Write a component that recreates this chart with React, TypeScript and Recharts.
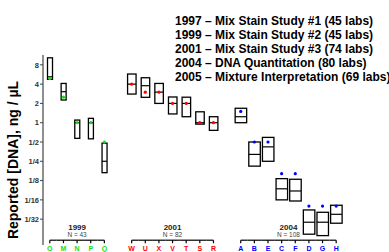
import { Bar, ComposedChart, Line, XAxis, YAxis } from "recharts";

// lab letters per study, in plotted order
const labs1999 = ["O", "M", "N", "P", "Q"];
const labs2001 = ["W", "U", "X", "V", "T", "S", "R"];
const labs2004 = ["A", "B", "E", "C", "F", "D", "G", "H"];

// reported [DNA] in ng/uL: box bottom, median, box top, and the true value
const low1999 = [4.75, 2.26, 0.57, 0.56, 0.166];
const med1999 = [5.2, 3.05, 1.0, 1.0, 0.25];
const high1999 = [10.3, 4.1, 1.1, 1.17, 0.48];
const true1999 = [4.9, 2.5, 1.0, 1.0, 0.5];

const low2001 = [2.8, 2.49, 2.0, 1.37, 1.24, 0.95, 0.76];
const med2001 = [4.0, 3.78, 3.0, 2.0, 2.0, 1.0, 1.0];
const high2001 = [5.75, 5.03, 4.1, 2.52, 2.5, 1.48, 1.24];
const true2001 = [4.0, 3.0, 3.0, 2.0, 2.0, 1.0, 1.0];

const low2004 = [1.0, 0.21, 0.25, 0.0625, 0.06, 0.0182, 0.0173, 0.027];
const med2004 = [1.24, 0.32, 0.42, 0.093, 0.086, 0.028, 0.028, 0.0372];
const high2004 = [1.68, 0.5, 0.59, 0.134, 0.131, 0.0435, 0.04, 0.0515];
const true2004 = [1.5, 0.5, 0.5, 0.16, 0.16, 0.05, 0.05, 0.05];

const studyYears = ["1999", "2001", "2004"];
const studyN = [43, 82, 108];

const yTicks = [3, 2, 1, 0, -1, -2, -3, -4, -5];

const legendLines = [
  "1997 \u2013 Mix Stain Study #1 (45 labs)",
  "1999 \u2013 Mix Stain Study #2 (45 labs)",
  "2001 \u2013 Mix Stain Study #3 (74 labs)",
  "2004 \u2013 DNA Quantitation (80 labs)",
  "2005 \u2013 Mixture Interpretation (69 labs)",
];

const FONT = "'Liberation Sans', Arial, sans-serif";
const W = 389;
const H = 252;
const MARGIN = { top: 55, right: 46, bottom: 0, left: 0 };
const Y_AXIS_W = 43;

const groups = [
  { labs: labs1999, low: low1999, med: med1999, high: high1999, truth: true1999, color: "#11dd11", boxW: 5 },
  { labs: labs2001, low: low2001, med: med2001, high: high2001, truth: true2001, color: "#ff0000", boxW: 8.5 },
  { labs: labs2004, low: low2004, med: med2004, high: high2004, truth: true2004, color: "#0000ff", boxW: 11.5 },
];

type Row = {
  slot: string;
  group?: number;
  pos?: number;
  range?: [number, number] | null;
  med?: number | null;
  truth?: number | null;
};

const rows: Row[] = [];
groups.forEach((g, gi) => {
  if (gi > 0) rows.push({ slot: `gap${gi}`, range: null, med: null, truth: null });
  g.labs.forEach((lab, i) => {
    rows.push({
      slot: lab,
      group: gi,
      pos: i,
      range: [Math.log2(g.low[i]), Math.log2(g.high[i])],
      med: Math.log2(g.med[i]),
      truth: Math.log2(g.truth[i]),
    });
  });
});

const STEP = (W - MARGIN.left - MARGIN.right - Y_AXIS_W) / rows.length;

const fmtPow2 = (e: number) => (e >= 0 ? String(2 ** e) : `1/${2 ** -e}`);

function BoxShape(props: any) {
  const { x, y, width, height, payload } = props;
  if (payload.group === undefined || height == null) return <g />;
  const w = groups[payload.group].boxW;
  const cx = x + width / 2;
  const top = Math.min(y, y + height);
  return (
    <rect
      x={cx - w / 2}
      y={top}
      width={w}
      height={Math.abs(height)}
      fill="#fff"
      stroke="#000"
      strokeWidth={1.3}
    />
  );
}

function MedianMark(props: any) {
  const { cx, cy, payload, index } = props;
  if (cy == null || payload.group === undefined) return <g key={`m${index}`} />;
  const w = groups[payload.group].boxW;
  return (
    <line
      key={`m${index}`}
      x1={cx - w / 2}
      x2={cx + w / 2}
      y1={cy}
      y2={cy}
      stroke="#000"
      strokeWidth={1.2}
    />
  );
}

function TruthDot(props: any) {
  const { cx, cy, payload, index } = props;
  if (cy == null || payload.group === undefined) return <g key={`t${index}`} />;
  return <circle key={`t${index}`} cx={cx} cy={cy} r={1.6} fill={groups[payload.group].color} />;
}

function LabTick(props: any) {
  const { x, y, payload } = props;
  const row = rows.find((r) => r.slot === payload.value);
  if (!row || row.group === undefined) return <g />;
  const g = groups[row.group];
  const first = row.pos === 0;
  const last = row.pos === g.labs.length - 1;
  const ly = y - 4.8;
  const mid = x + ((g.labs.length - 1) * STEP) / 2;
  return (
    <g>
      <line x1={first ? x : x - STEP / 2} x2={last ? x : x + STEP / 2} y1={ly} y2={ly} stroke="#000" strokeWidth={1.2} />
      <line x1={x} x2={x} y1={ly} y2={ly + 3} stroke="#000" strokeWidth={1.2} />
      <text x={x} y={y + 6.3} textAnchor="middle" fill={g.color} fontSize={7} fontWeight="bold" fontFamily={FONT}>
        {payload.value}
      </text>
      {first && (
        <>
          <text x={mid} y={229.5} textAnchor="middle" fill="#222" fontSize={8} fontWeight="bold" fontFamily={FONT}>
            {studyYears[row.group]}
          </text>
          <text x={mid} y={236.5} textAnchor="middle" fill="#444" fontSize={6.5} fontFamily={FONT}>
            {`N = ${studyN[row.group]}`}
          </text>
        </>
      )}
    </g>
  );
}

export default function App() {
  return (
    <div style={{ width: W, height: H }}>
      <style>{"body{margin:0}"}</style>
      <ComposedChart width={W} height={H} data={rows} margin={MARGIN} barCategoryGap={0}>
        <XAxis
          dataKey="slot"
          type="category"
          height={7}
          interval={0}
          axisLine={false}
          tickLine={false}
          tickSize={0}
          tickMargin={0}
          tick={<LabTick />}
        />
        <YAxis
          type="number"
          width={Y_AXIS_W}
          domain={[-6.34, 3.51]}
          allowDataOverflow
          ticks={yTicks}
          tickFormatter={fmtPow2}
          tickSize={3}
          tickMargin={1}
          axisLine={{ stroke: "#444", strokeWidth: 1.2 }}
          tickLine={{ stroke: "#444" }}
          tick={{ fontSize: 7.5, fontWeight: "bold", fill: "#333", fontFamily: FONT }}
        />
        <Bar dataKey="range" barSize={10} shape={<BoxShape />} isAnimationActive={false} />
        <Line
          dataKey="med"
          stroke="none"
          dot={MedianMark}
          activeDot={false}
          isAnimationActive={false}
        />
        <Line
          dataKey="truth"
          stroke="none"
          dot={TruthDot}
          activeDot={false}
          isAnimationActive={false}
        />
        <text
          x={17.5}
          y={160}
          transform="rotate(-90 17.5 160)"
          textAnchor="middle"
          fontSize={14}
          fontWeight="bold"
          fontFamily={FONT}
          fill="#000"
        >
          Reported [DNA], ng / µL
        </text>
        {legendLines.map((t, i) => (
          <text
            key={t}
            x={175}
            y={24.5 + i * 14.2}
            fontSize={12}
            fontWeight="bold"
            fontFamily={FONT}
            fill="#000"
          >
            {t}
          </text>
        ))}
      </ComposedChart>
    </div>
  );
}
